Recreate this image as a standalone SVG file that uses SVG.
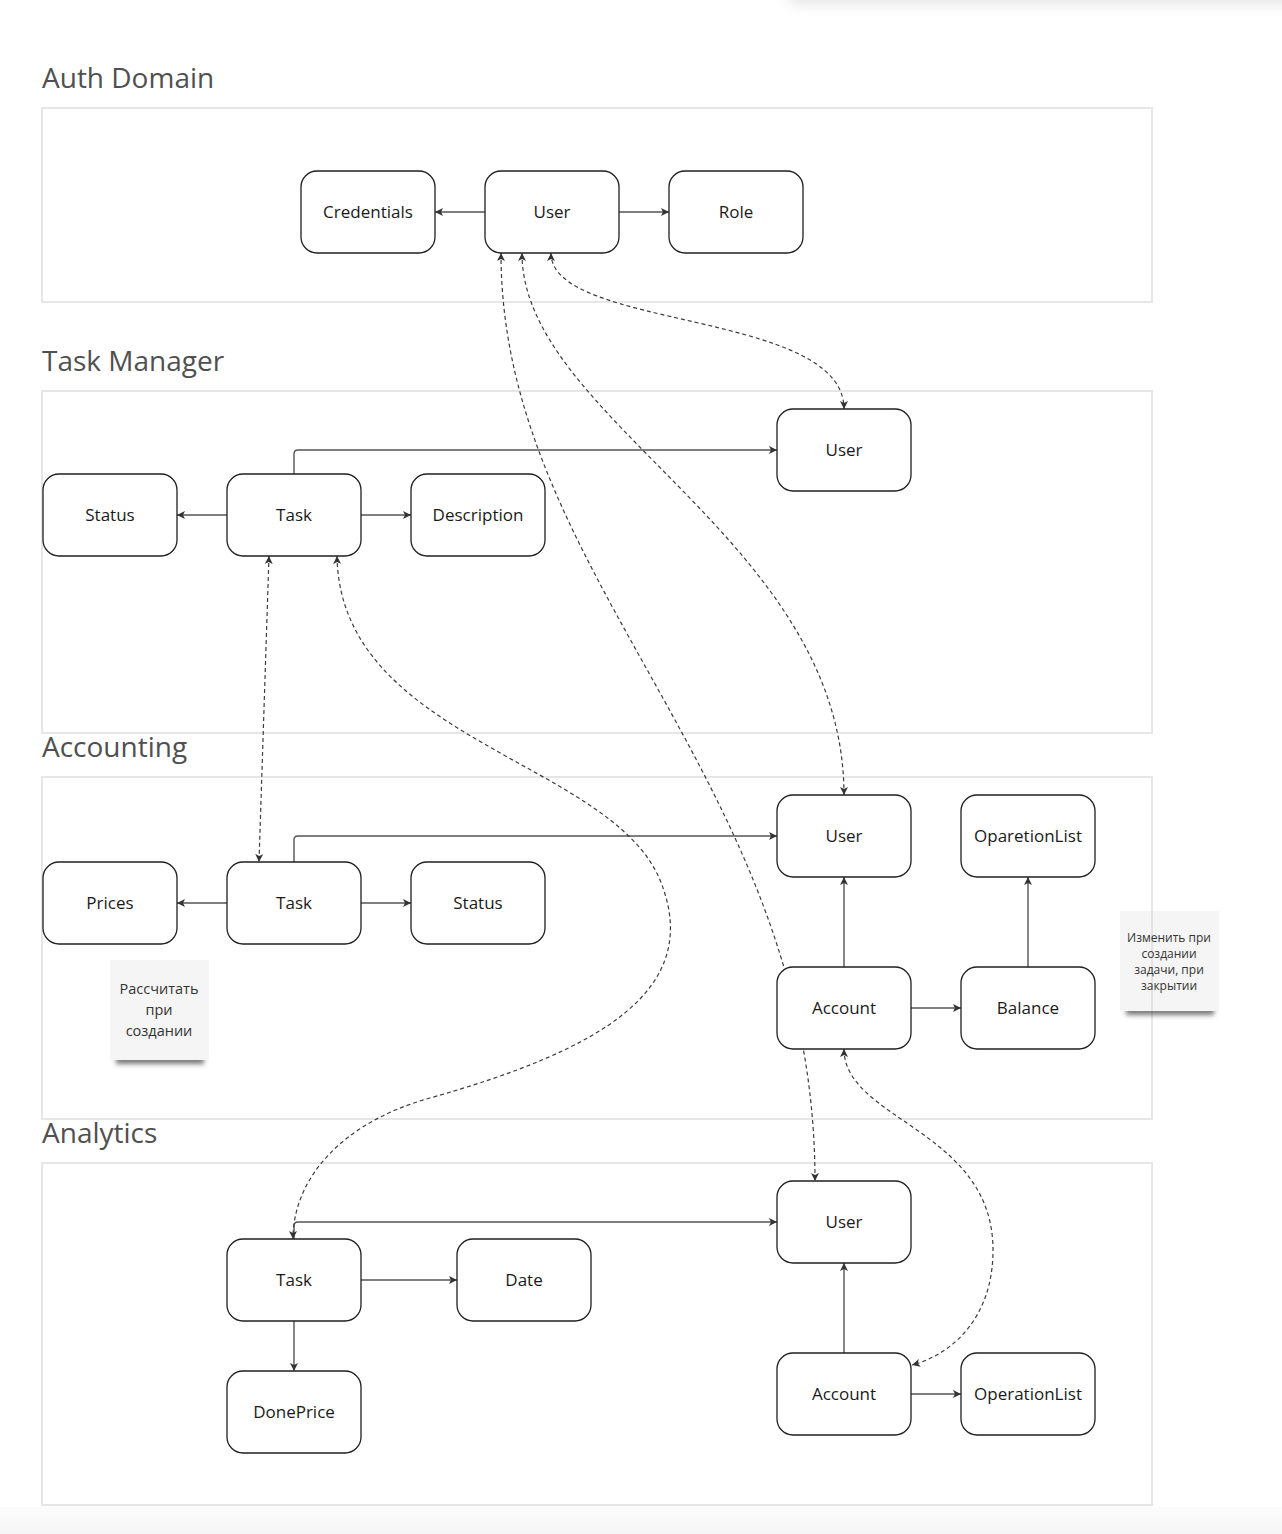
<svg xmlns="http://www.w3.org/2000/svg" width="1282" height="1534" viewBox="0 0 1282 1534">
  <style>
    .frame { fill: #ffffff; stroke: #e6e6e6; stroke-width: 2; }
    .title { font-family: "Open Sans", "Noto Sans", "Liberation Sans", sans-serif; font-size: 28px; fill: #505050; }
    .box { fill: #ffffff; stroke: #1f1f1f; stroke-width: 1.3; }
    .label { font-family: "Open Sans", "Noto Sans", "Liberation Sans", sans-serif; font-size: 17px; fill: #1a1a1a; text-anchor: middle; }
    .link { fill: none; stroke: #555555; stroke-width: 1.4; marker-end: url(#arrow); }
    .dash { fill: none; stroke: #3c3c3c; stroke-width: 1.2; stroke-dasharray: 4 3; marker-start: url(#arrow); marker-end: url(#arrow); }
    .sticky { fill: #f5f5f5; }
    .note { font-family: "Open Sans", "Noto Sans", "Liberation Sans", sans-serif; fill: #333333; text-anchor: middle; }
  </style>
  <defs>
    <marker id="arrow" viewBox="0 0 8 8" refX="8" refY="4" markerWidth="8" markerHeight="8" markerUnits="userSpaceOnUse" orient="auto-start-reverse">
      <path d="M0,0 L8,4 L0,8 L2,4 z" fill="#333333"/>
    </marker>
    <filter id="soft" x="-20%" y="-50%" width="140%" height="200%">
      <feGaussianBlur stdDeviation="2.5"/>
    </filter>
    <filter id="haze" x="-10%" y="-100%" width="120%" height="300%">
      <feGaussianBlur stdDeviation="7"/>
    </filter>
    <linearGradient id="floor" x1="0" y1="0" x2="0" y2="1">
      <stop offset="0" stop-color="#fcfcfc"/>
      <stop offset="1" stop-color="#f6f6f6"/>
    </linearGradient>
  </defs>

  <!-- canvas -->
  <rect x="0" y="0" width="1282" height="1534" fill="#ffffff"/>
  <rect x="790" y="-24" width="530" height="28" fill="#e4e4e4" filter="url(#haze)"/>
  <rect x="0" y="1507" width="1282" height="27" fill="url(#floor)"/>

  <!-- domain frames -->
  <g id="frames">
    <text class="title" x="42" y="88">Auth Domain</text>
    <rect class="frame" x="42" y="108" width="1110" height="194"/>
    <text class="title" x="42" y="371">Task Manager</text>
    <rect class="frame" x="42" y="391" width="1110" height="342"/>
    <text class="title" x="42" y="757">Accounting</text>
    <rect class="frame" x="42" y="777" width="1110" height="342"/>
    <text class="title" x="42" y="1143">Analytics</text>
    <rect class="frame" x="42" y="1163" width="1110" height="342"/>
  </g>

  <!-- connectors -->
  <g id="connectors">
    <!-- Auth Domain -->
    <path class="link" d="M485,212 H435"/>
    <path class="link" d="M619,212 H669"/>
    <!-- Task Manager -->
    <path class="link" d="M227,515 H177"/>
    <path class="link" d="M361,515 H411"/>
    <path class="link" d="M294,474 V454 Q294,450 298,450 H777"/>
    <!-- Accounting -->
    <path class="link" d="M227,903 H177"/>
    <path class="link" d="M361,903 H411"/>
    <path class="link" d="M294,862 V840 Q294,836 298,836 H777"/>
    <path class="link" d="M844,967 V877"/>
    <path class="link" d="M911,1008 H961"/>
    <path class="link" d="M1028,967 V877"/>
    <!-- Analytics -->
    <path class="link" d="M294,1239 V1226 Q294,1222 298,1222 H777"/>
    <path class="link" d="M361,1280 H457"/>
    <path class="link" d="M294,1321 V1371"/>
    <path class="link" d="M844,1353 V1263"/>
    <path class="link" d="M911,1394 H961"/>

    <!-- cross-domain links -->
    <path class="dash" d="M551,253 C551,330 844,310 844,409"/>
    <path class="dash" d="M522,253 C522,420 844,540 844,795"/>
    <path class="dash" d="M501,253 C501,580 815,780 815,1181"/>
    <path class="dash" d="M269,556 L259,862"/>
    <path class="dash" d="M337,556 C340,740 610,760 660,880 C705,990 600,1050 430,1098 C340,1123 293,1180 293,1239"/>
    <path class="dash" d="M844,1049 C844,1120 993,1130 993,1250 C993,1320 950,1355 912,1365"/>
  </g>

  <!-- Auth Domain nodes -->
  <g id="auth-credentials"><rect class="box" x="301" y="171" width="134" height="82" rx="16"/><text class="label" x="368" y="218">Credentials</text></g>
  <g id="auth-user"><rect class="box" x="485" y="171" width="134" height="82" rx="16"/><text class="label" x="552" y="218">User</text></g>
  <g id="auth-role"><rect class="box" x="669" y="171" width="134" height="82" rx="16"/><text class="label" x="736" y="218">Role</text></g>

  <!-- Task Manager nodes -->
  <g id="tm-user"><rect class="box" x="777" y="409" width="134" height="82" rx="16"/><text class="label" x="844" y="456">User</text></g>
  <g id="tm-status"><rect class="box" x="43" y="474" width="134" height="82" rx="16"/><text class="label" x="110" y="521">Status</text></g>
  <g id="tm-task"><rect class="box" x="227" y="474" width="134" height="82" rx="16"/><text class="label" x="294" y="521">Task</text></g>
  <g id="tm-description"><rect class="box" x="411" y="474" width="134" height="82" rx="16"/><text class="label" x="478" y="521">Description</text></g>

  <!-- Accounting nodes -->
  <g id="acc-user"><rect class="box" x="777" y="795" width="134" height="82" rx="16"/><text class="label" x="844" y="842">User</text></g>
  <g id="acc-operationlist"><rect class="box" x="961" y="795" width="134" height="82" rx="16"/><text class="label" x="1028" y="842">OparetionList</text></g>
  <g id="acc-prices"><rect class="box" x="43" y="862" width="134" height="82" rx="16"/><text class="label" x="110" y="909">Prices</text></g>
  <g id="acc-task"><rect class="box" x="227" y="862" width="134" height="82" rx="16"/><text class="label" x="294" y="909">Task</text></g>
  <g id="acc-status"><rect class="box" x="411" y="862" width="134" height="82" rx="16"/><text class="label" x="478" y="909">Status</text></g>
  <g id="acc-account"><rect class="box" x="777" y="967" width="134" height="82" rx="16"/><text class="label" x="844" y="1014">Account</text></g>
  <g id="acc-balance"><rect class="box" x="961" y="967" width="134" height="82" rx="16"/><text class="label" x="1028" y="1014">Balance</text></g>

  <!-- Analytics nodes -->
  <g id="an-user"><rect class="box" x="777" y="1181" width="134" height="82" rx="16"/><text class="label" x="844" y="1228">User</text></g>
  <g id="an-task"><rect class="box" x="227" y="1239" width="134" height="82" rx="16"/><text class="label" x="294" y="1286">Task</text></g>
  <g id="an-date"><rect class="box" x="457" y="1239" width="134" height="82" rx="16"/><text class="label" x="524" y="1286">Date</text></g>
  <g id="an-doneprice"><rect class="box" x="227" y="1371" width="134" height="82" rx="16"/><text class="label" x="294" y="1418">DonePrice</text></g>
  <g id="an-account"><rect class="box" x="777" y="1353" width="134" height="82" rx="16"/><text class="label" x="844" y="1400">Account</text></g>
  <g id="an-operationlist"><rect class="box" x="961" y="1353" width="134" height="82" rx="16"/><text class="label" x="1028" y="1400">OperationList</text></g>

  <!-- sticky notes -->
  <g id="note-prices">
    <rect x="116" y="1052" width="88" height="12" fill="#404040" opacity="0.7" filter="url(#soft)"/>
    <rect class="sticky" x="110" y="960" width="99" height="100"/>
    <text class="note" font-size="14.5"><tspan x="159" y="994">Рассчитать</tspan><tspan x="159" y="1015">при</tspan><tspan x="159" y="1036">создании</tspan></text>
  </g>
  <g id="note-balance">
    <rect x="1126" y="1003" width="88" height="12" fill="#404040" opacity="0.7" filter="url(#soft)"/>
    <rect class="sticky" x="1120" y="911" width="99" height="100"/>
    <line x1="1152" y1="911" x2="1152" y2="1011" stroke="#d2d2d2" stroke-width="1"/>
    <text class="note" font-size="12"><tspan x="1169" y="942">Изменить при</tspan><tspan x="1169" y="958">создании</tspan><tspan x="1169" y="974">задачи, при</tspan><tspan x="1169" y="990">закрытии</tspan></text>
  </g>
</svg>
